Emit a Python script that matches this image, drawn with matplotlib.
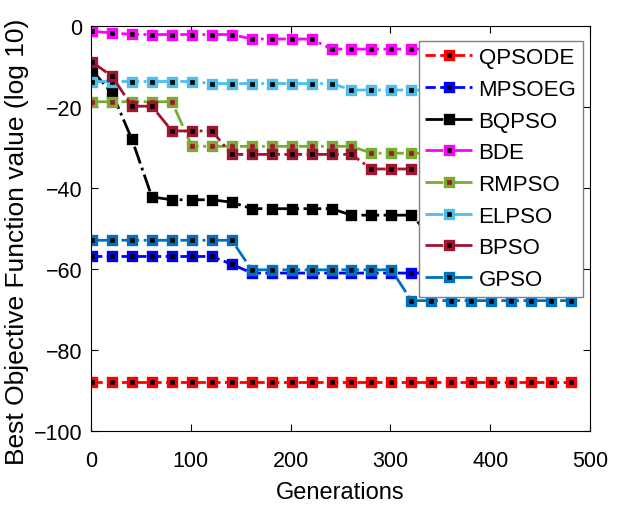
import matplotlib
matplotlib.use("Agg")
import matplotlib.pyplot as plt
import numpy as np

plt.rcParams["font.family"] = ["Liberation Sans", "DejaVu Sans"]

# generations at which the best value was recorded
generations = np.arange(1, 482, 20)

qpsode = [-87.9] * 25
mpsoeg = [-56.9] * 7 + [-58.8] + [-61.0] * 17
bqpso = [-11.0, -16.5, -28.0, -42.2, -42.9, -42.9, -42.9, -43.5,
         -45.1, -45.1, -45.1, -45.1, -45.1,
         -46.7, -46.7, -46.7, -46.7] + [-52.0] * 8
bde = [-1.3, -1.7, -2.05, -2.1, -2.1, -2.1, -2.1, -2.1,
       -3.2, -3.2, -3.2, -3.2] + [-5.7] * 13
rmpso = [-18.7] * 5 + [-29.7] * 9 + [-31.4] * 11
elpso = [-13.7] * 6 + [-14.2] * 7 + [-15.8] * 12
bpso = [-8.9, -12.4, -19.8, -19.8, -25.9, -25.9, -25.9] + [-31.7] * 7 + [-35.3] * 11
gpso = [-52.9] * 8 + [-60.2] * 8 + [-67.8] * 9

labels = ["QPSODE", "MPSOEG", "BQPSO", "BDE", "RMPSO", "ELPSO", "BPSO", "GPSO"]
series = [qpsode, mpsoeg, bqpso, bde, rmpso, elpso, bpso, gpso]
colors = ["#FF0000", "#0000FF", "#000000", "#FF00FF",
          "#77AC30", "#4DBEEE", "#A2142F", "#0072BD"]
faces = ["k", "k", "k", "k", "#A2142F", "k", "k", "k"]
styles = ["--", "--", "-.", "-.", "-.", "-.", "-.", "-."]

fig = plt.figure(figsize=(6.34, 5.06), dpi=100)
ax = fig.add_axes([0.1436, 0.1462, 0.7870, 0.8004])

for vals, lab, col, fc, ls in zip(series, labels, colors, faces, styles):
    ax.plot(generations, vals, linestyle=ls, color=col, lw=2.0,
            marker="s", ms=5.5, mew=2.4, mec=col, mfc=fc, label=lab)

ax.set_xlim(0, 500)
ax.set_ylim(-100, 0)
ax.set_xticks(np.arange(0, 501, 100))
ax.set_yticks(np.arange(-100, 1, 20))
ax.tick_params(direction="in", top=True, right=True, labelsize=15.5, length=5)
ax.tick_params(axis="x", pad=14)
ax.tick_params(axis="y", pad=6)
ax.set_xlabel("Generations", fontsize=17, labelpad=7)
ax.set_ylabel("Best Objective Function value (log 10)", fontsize=19)
ax.yaxis.set_label_coords(-0.125, 0.47)

leg = ax.legend(loc="upper right", bbox_to_anchor=(0.986, 0.964), borderaxespad=0,
                fontsize=16, fancybox=False, framealpha=1, edgecolor="#808080",
                handlelength=2.1, labelspacing=0.48, handletextpad=0.3,
                borderpad=0.3)
leg.get_frame().set_linewidth(1.0)

fig.savefig("out.png", dpi=100)
